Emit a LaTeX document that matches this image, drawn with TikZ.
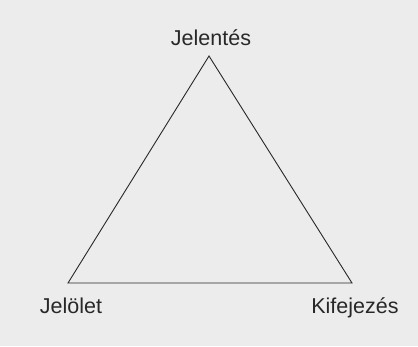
\documentclass[tikz,border=0pt]{standalone}
\usepackage{fontspec}
\setmainfont{Liberation Sans}
\definecolor{bg}{RGB}{236,236,236}
\definecolor{ink}{RGB}{40,40,40}
\tikzset{lbl/.style={text=ink,font=\fontsize{21.5}{26}\selectfont,inner sep=0pt,anchor=base},
  edge/.style={draw=ink,line width=0.9pt}}
\begin{document}
\begin{tikzpicture}[x=1pt,y=-1pt]
\fill[bg] (0,0) rectangle (418,346);
\useasboundingbox (0,0) rectangle (418,346);
\node[lbl] (jelentes) at (211,45) {Jelentés};
\node[lbl] (jelolet) at (71,313) {Jelölet};
\node[lbl] (kifejezes) at (355,313) {Kifejezés};
\coordinate (top) at (209,56);
\coordinate (bl) at (68,283);
\coordinate (br) at (352,283);
\draw[edge,line join=miter] (top) -- (bl) -- (br) -- cycle;
\end{tikzpicture}
\end{document}
